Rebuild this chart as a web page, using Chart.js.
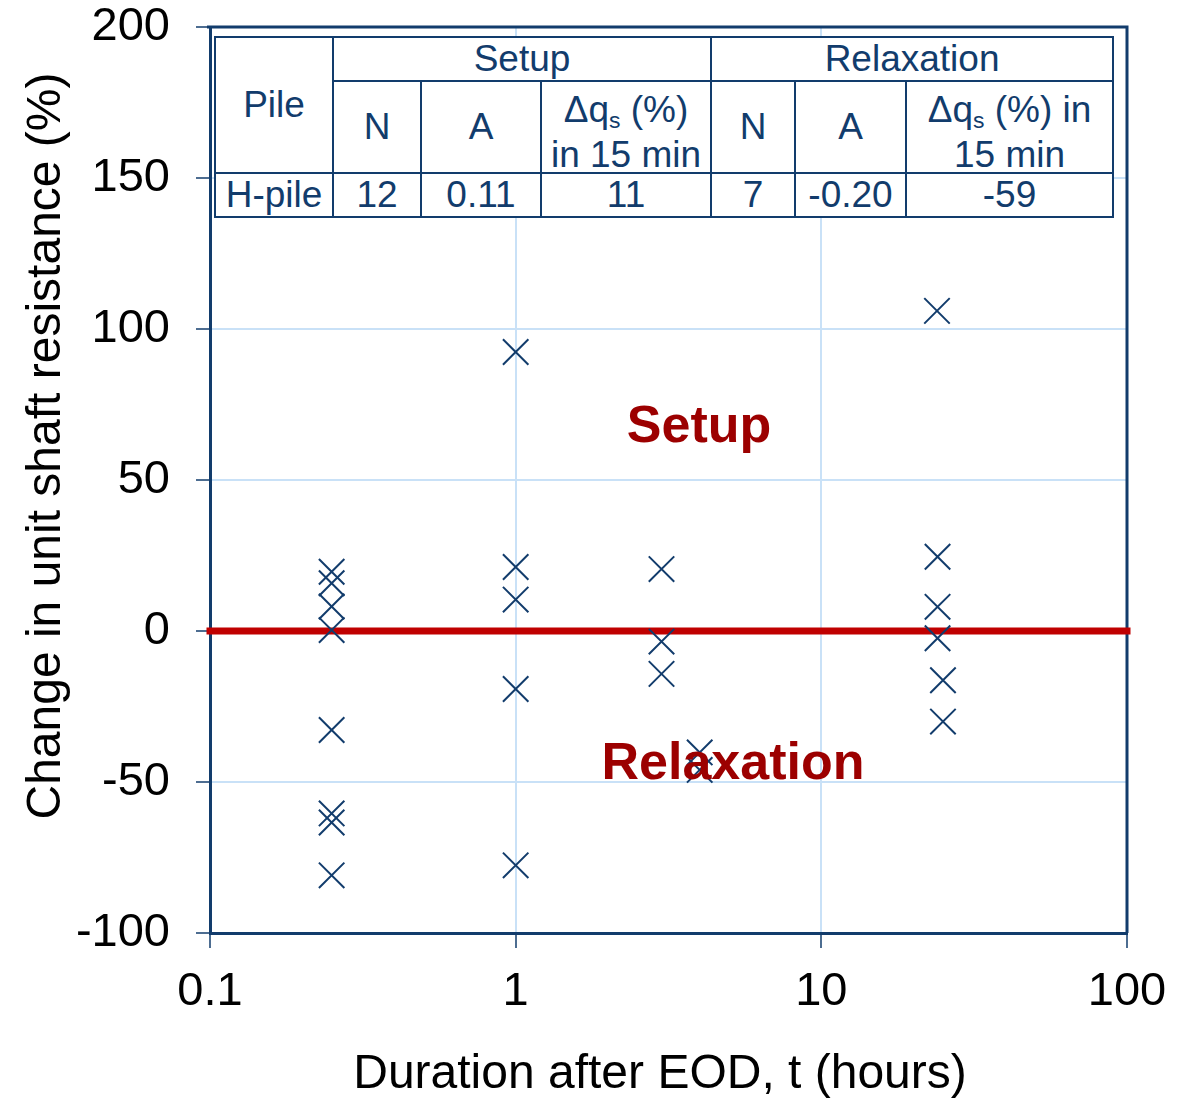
<!DOCTYPE html>
<html>
<head>
<meta charset="utf-8">
<script src="https://cdn.jsdelivr.net/npm/chart.js@4.4.1/dist/chart.umd.min.js"></script>
<style>
  body { margin: 0; background: #fff; }
  #wrap { position: relative; width: 1192px; height: 1098px; }
  #stats {
    position: absolute; left: 214px; top: 36px; width: 900px;
    border-collapse: collapse; table-layout: fixed; background: #fff;
    font: 37px "Liberation Sans", Arial, sans-serif; color: #123c6c;
  }
  #stats td { border: 2px solid #123c6c; text-align: center; vertical-align: middle; padding: 0; line-height: 40px; }
  #stats sub { font-size: 0.62em; line-height: 0; vertical-align: -0.25em; }
  #stats td.two span { display: block; position: relative; top: 5px; line-height: 45px; }
</style>
</head>
<body>
<div id="wrap">
  <canvas id="chart" width="1192" height="1098"></canvas>
  <table id="stats"></table>
</div>
<script>
// measured points: duration after EOD (hours) vs change in unit shaft resistance (%)
const durationHours = [0.25, 0.25, 0.25, 0.25, 0.25, 0.25, 0.25, 0.25,
  1, 1, 1, 1, 1,
  3, 3, 3,
  4, 4,
  23.9, 24, 24, 24, 25, 25];
const shaftChange = [19.6, 15.8, 8.1, 0.3, -32.8, -60.4, -63.4, -80.9,
  92.4, 21.2, 10.4, -19.2, -77.6,
  20.5, -3.5, -14.2,
  -40.2, -46,
  106, 24.6, 8.0, -2.4, -16.3, -30];

const zeroLineX = [0.1, 100];
const xTickValues = [0.1, 1, 10, 100];
const yTickValues = [-100, -50, 0, 50, 100, 150, 200];

// table in the top of the plot
const pileName = "H-pile";
const groupNames = ["Setup", "Relaxation"];
const setupStats = ["12", "0.11", "11"];
const relaxStats = ["7", "-0.20", "-59"];

const navy = "#123c6c";
const gridBlue = "#c9e1f7";
const font = "'Liberation Sans', Arial, sans-serif";

function buildTable() {
  const t = document.getElementById("stats");
  const widths = [118, 88, 120, 170, 84, 111, 207];
  let html = "<colgroup>" + widths.map((w) => `<col style="width:${w}px">`).join("") + "</colgroup>";
  html += `<tr style="height:44px"><td rowspan="2">Pile</td><td colspan="3">${groupNames[0]}</td><td colspan="3">${groupNames[1]}</td></tr>`;
  html += `<tr style="height:92px"><td>N</td><td>A</td><td class="two"><span>&Delta;q<sub>s</sub> (%)<br>in 15 min</span></td>`;
  html += `<td>N</td><td>A</td><td class="two"><span>&Delta;q<sub>s</sub> (%) in<br>15 min</span></td></tr>`;
  html += `<tr style="height:44px"><td>${pileName}</td>` + setupStats.map((v) => `<td>${v}</td>`).join("") +
    relaxStats.map((v) => `<td>${v}</td>`).join("") + "</tr>";
  t.innerHTML = html;
}
buildTable();

const framePlugin = {
  id: "frame",
  beforeDatasetsDraw(chart) {
    const { ctx, chartArea: a } = chart;
    ctx.save();
    ctx.strokeStyle = navy;
    ctx.lineWidth = 3;
    ctx.beginPath();
    ctx.moveTo(a.left - 3, a.top);
    ctx.lineTo(a.right, a.top);
    ctx.lineTo(a.right, a.bottom);
    ctx.stroke();
    ctx.restore();
  },
  afterDatasetsDraw(chart) {
    const { ctx } = chart;
    ctx.save();
    ctx.fillStyle = "#9c0000";
    ctx.font = "bold 52px " + font;
    ctx.textAlign = "center";
    ctx.textBaseline = "middle";
    ctx.fillText("Setup", 699, 428);
    ctx.fillText("Relaxation", 733, 765);

    ctx.fillStyle = "#000";
    ctx.font = "48px " + font;
    ctx.fillText("Duration after EOD, t (hours)", 660, 1075);
    ctx.translate(47, 446);
    ctx.rotate(-Math.PI / 2);
    ctx.fillText("Change in unit shaft resistance (%)", 0, 0);
    ctx.restore();
  }
};

new Chart(document.getElementById("chart"), {
  data: {
    datasets: [
      {
        type: "scatter",
        data: durationHours.map((t, i) => ({ x: t, y: shaftChange[i] })),
        pointStyle: "crossRot",
        pointRadius: 18,
        pointHoverRadius: 18,
        borderColor: navy,
        pointBorderWidth: 2,
        borderWidth: 2
      },
      {
        type: "line",
        data: zeroLineX.map((x) => ({ x, y: 0 })),
        borderColor: "#c00000",
        borderWidth: 7,
        borderCapStyle: "square",
        pointRadius: 0,
        clip: false
      }
    ]
  },
  options: {
    responsive: false,
    animation: false,
    layout: { padding: { top: 27, right: 65, left: 0, bottom: 0 } },
    plugins: { legend: { display: false }, tooltip: { enabled: false } },
    scales: {
      x: {
        type: "logarithmic",
        min: 0.1,
        max: 100,
        afterBuildTicks: (axis) => { axis.ticks = xTickValues.map((v) => ({ value: v })); },
        afterFit: (s) => { s.height = 165; },
        ticks: {
          color: "#000",
          font: { family: font, size: 47 },
          padding: 16,
          maxRotation: 0,
          callback: (v) => String(v)
        },
        grid: { color: gridBlue, lineWidth: 2, tickColor: navy, tickLength: 15, tickWidth: 1.5 },
        border: { color: navy, width: 3 }
      },
      y: {
        type: "linear",
        min: -100,
        max: 200,
        afterBuildTicks: (axis) => { axis.ticks = yTickValues.map((v) => ({ value: v })); },
        afterFit: (s) => { s.width = 210; s.paddingTop = 0; s.paddingBottom = 0; },
        ticks: {
          color: "#000",
          font: { family: font, size: 47 },
          padding: 26
        },
        grid: { color: gridBlue, lineWidth: 2, tickColor: navy, tickLength: 14, tickWidth: 1.5 },
        border: { color: navy, width: 3 }
      }
    }
  },
  plugins: [framePlugin]
});
</script>
</body>
</html>
